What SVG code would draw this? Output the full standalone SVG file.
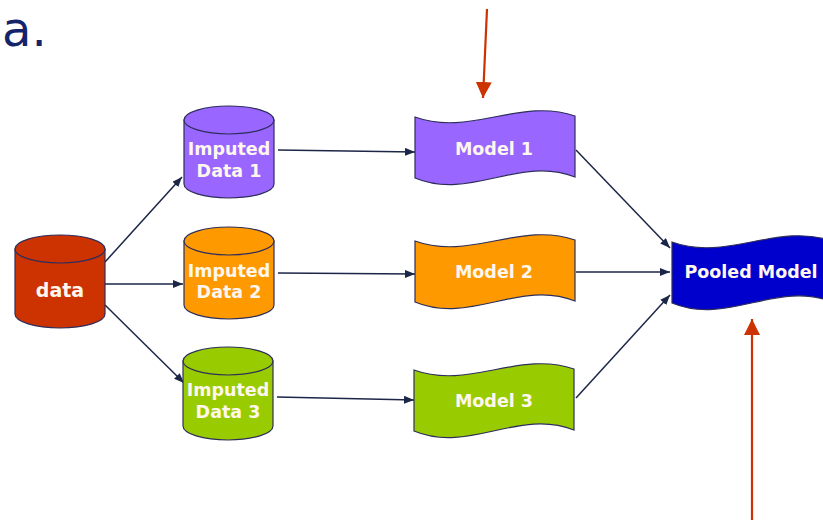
<svg xmlns="http://www.w3.org/2000/svg" width="823" height="520" viewBox="0 0 823 520">
<defs>
<style>
.lbl{font-family:"DejaVu Sans",Verdana,sans-serif;font-weight:bold;font-size:17.5px;fill:#fff7ee;text-anchor:middle}
.cyl{stroke:#2e2e5c;stroke-width:1.2}
.flag{stroke:#2e2e5c;stroke-width:1.2}
.conn{fill:none;stroke:#1c2748;stroke-width:1.5}
.red{fill:none;stroke:#cc3300;stroke-width:2.2}
.title{font-family:"DejaVu Sans",Verdana,sans-serif;font-size:48px;fill:#14246b}
</style>
<marker id="ah" viewBox="0 0 10 8" refX="10" refY="4" markerWidth="10" markerHeight="8" markerUnits="userSpaceOnUse" orient="auto">
<path d="M0,0 L10,4 L0,8 Z" fill="#1c2748"/>
</marker>
<marker id="rh" viewBox="0 0 16 16" refX="16" refY="8" markerWidth="16" markerHeight="16" markerUnits="userSpaceOnUse" orient="auto">
<path d="M0,0 L16,8 L0,16 Z" fill="#cc3300"/>
</marker>
<path id="flagShape" d="M0,0 C55,20 105,-20 160,-1 L160,60 C105,38 55,84 0,61 Z"/>
</defs>
<rect width="823" height="520" fill="#ffffff"/>

<text class="title" x="2" y="46">a.</text>

<g id="connectors">
<line class="conn" x1="105" y1="262" x2="182" y2="177" marker-end="url(#ah)"/>
<line class="conn" x1="105" y1="284" x2="183" y2="284" marker-end="url(#ah)"/>
<line class="conn" x1="105" y1="305" x2="184" y2="383" marker-end="url(#ah)"/>
<line class="conn" x1="278" y1="150" x2="415" y2="152" marker-end="url(#ah)"/>
<line class="conn" x1="278" y1="273" x2="415" y2="274" marker-end="url(#ah)"/>
<line class="conn" x1="277" y1="397" x2="414" y2="400" marker-end="url(#ah)"/>
<line class="conn" x1="576" y1="150" x2="670" y2="248" marker-end="url(#ah)"/>
<line class="conn" x1="576" y1="272" x2="670" y2="272" marker-end="url(#ah)"/>
<line class="conn" x1="576" y1="398" x2="670" y2="295" marker-end="url(#ah)"/>
<line class="red" x1="487" y1="9" x2="483" y2="98" marker-end="url(#rh)"/>
<line class="red" x1="752" y1="520" x2="752" y2="319" marker-end="url(#rh)"/>
</g>

<g id="data">
<path class="cyl" fill="#cc3300" d="M15,249 L15,314 A45,14 0 0 0 105,314 L105,249 Z"/>
<ellipse class="cyl" fill="#cc3300" cx="60" cy="249" rx="45" ry="14"/>
<text class="lbl" x="60" y="297" style="font-size:19px">data</text>
</g>

<g id="imputed1">
<path class="cyl" fill="#9966ff" d="M184,120 L184,184 A45,14 0 0 0 274,184 L274,120 Z"/>
<ellipse class="cyl" fill="#9966ff" cx="229" cy="120" rx="45" ry="14"/>
<text class="lbl" x="229" y="155">Imputed</text>
<text class="lbl" x="229" y="177">Data 1</text>
</g>

<g id="imputed2">
<path class="cyl" fill="#ff9900" d="M184,241 L184,305 A45,14 0 0 0 274,305 L274,241 Z"/>
<ellipse class="cyl" fill="#ff9900" cx="229" cy="241" rx="45" ry="14"/>
<text class="lbl" x="229" y="277">Imputed</text>
<text class="lbl" x="229" y="298">Data 2</text>
</g>

<g id="imputed3">
<path class="cyl" fill="#99cc00" d="M183,361 L183,426 A45,14 0 0 0 273,426 L273,361 Z"/>
<ellipse class="cyl" fill="#99cc00" cx="228" cy="361" rx="45" ry="14"/>
<text class="lbl" x="228" y="396">Imputed</text>
<text class="lbl" x="228" y="418">Data 3</text>
</g>

<g id="model1">
<use href="#flagShape" class="flag" fill="#9966ff" transform="translate(415,117)"/>
<text class="lbl" x="494" y="155">Model 1</text>
</g>

<g id="model2">
<use href="#flagShape" class="flag" fill="#ff9900" transform="translate(415,241)"/>
<text class="lbl" x="494" y="278">Model 2</text>
</g>

<g id="model3">
<use href="#flagShape" class="flag" fill="#99cc00" transform="translate(414,370)"/>
<text class="lbl" x="494" y="407">Model 3</text>
</g>

<g id="pooled">
<use href="#flagShape" class="flag" fill="#0000cc" transform="translate(672,242)"/>
<text class="lbl" x="751" y="278">Pooled Model</text>
</g>
</svg>
